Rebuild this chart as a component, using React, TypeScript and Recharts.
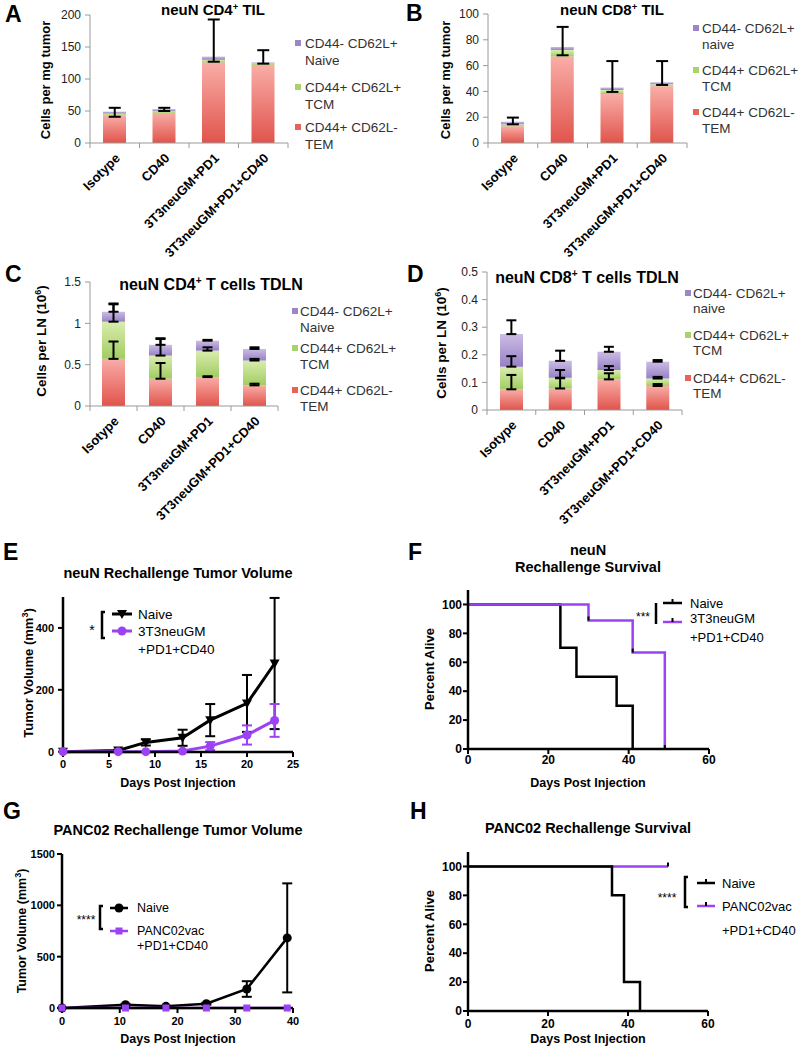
import React from 'react';
import { ComposedChart, LineChart, Bar, Line, XAxis, YAxis, ErrorBar, Legend } from 'recharts';

const FONT = '"Liberation Sans", Arial, Helvetica, sans-serif';
const PURPLE = '#9b42f5';
const AXIS_GRAY = '#9a9a9a';

// ---------------- Panels A–D (stacked bars) ----------------
const groups = ['Isotype', 'CD40', '3T3neuGM+PD1', '3T3neuGM+PD1+CD40'];

const tilCd4Tem = [43, 47, 126, 122];
const tilCd4Tcm = [3, 2.5, 4, 2.5];
const tilCd4Naive = [3, 3.5, 5, 1.5];
const tilCd4ErrLow = [8, 3, 8, 2];
const tilCd4ErrHigh = [6, 2, 58, 19];

const tilCd8Tem = [13, 67, 38, 44];
const tilCd8Tcm = [1.5, 5, 3, 1.5];
const tilCd8Naive = [2, 2.5, 2, 1.5];
const tilCd8ErrLow = [2, 6.5, 3.4, 2];
const tilCd8ErrHigh = [3.2, 15.5, 20.5, 16.5];

const lnCd4Tem = [0.57, 0.33, 0.35, 0.25];
const lnCd4Tcm = [0.45, 0.28, 0.32, 0.3];
const lnCd4Naive = [0.12, 0.13, 0.12, 0.14];
const lnCd4TemErr = [0.21, 0.19, 0.01, 0.02];
const lnCd4TcmErr = [0.21, 0.2, 0.04, 0.02];
const lnCd4NaiveErr = [0.1, 0.08, 0.01, 0.02];

const lnCd8Tem = [0.075, 0.078, 0.111, 0.087];
const lnCd8Tcm = [0.082, 0.039, 0.034, 0.027];
const lnCd8Naive = [0.118, 0.061, 0.066, 0.061];
const lnCd8TemErr = [0.052, 0.037, 0.022, 0.007];
const lnCd8TcmErr = [0.038, 0.028, 0.014, 0.006];
const lnCd8NaiveErr = [0.05, 0.037, 0.018, 0.006];

const ticksA = [0, 50, 100, 150, 200];
const ticksB = [0, 20, 40, 60, 80, 100];
const ticksC = [0, 0.5, 1, 1.5];
const ticksD = [0, 0.1, 0.2, 0.3, 0.4, 0.5];

// ---------------- Panels E–H ----------------
const neuNDays = [0, 6, 9, 13, 16, 20, 23];
const neuNNaiveVol = [0, 4, 30, 45, 102, 156, 285];
const neuNNaiveErr = [0, 2, 10, 26, 52, 92, 212];
const neuNVacVol = [0, 0, 0, 2, 18, 54, 101];
const neuNVacErr = [0, 0, 1, 2, 13, 31, 53];
const neuNTicksX = [0, 5, 10, 15, 20, 25];
const neuNTicksY = [0, 200, 400];

const fNaiveDays = [0, 23, 27, 37, 41];
const fNaivePct = [100, 70, 50, 30, 0];
const fVacDays = [0, 30, 41, 49];
const fVacPct = [100, 88.9, 66.7, 0];

const pancDays = [0, 11, 18, 25, 32, 39];
const pancNaiveVol = [0, 32, 16, 42, 185, 683];
const pancNaiveErr = [0, 8, 5, 8, 76, 531];
const pancVacVol = [0, 0, 0, 0, 0, 0];
const pancTicksX = [0, 10, 20, 30, 40];
const pancTicksY = [0, 500, 1000, 1500];

const hNaiveDays = [0, 36, 39, 43];
const hNaivePct = [100, 80, 20, 0];
const hVacDays = [0, 50];
const hVacPct = [100, 100];

const survTicksX = [0, 20, 40, 60];
const survTicksY = [0, 20, 40, 60, 80, 100];

// ---------------- row builders ----------------
type Row = Record<string, any>;
function stackedRows(tem: number[], tcm: number[], naive: number[]): Row[] {
  return groups.map((g, i) => ({
    group: g,
    tem: tem[i],
    tcm: tcm[i],
    naive: naive[i],
    temTop: tem[i],
    tcmTop: tem[i] + tcm[i],
    total: tem[i] + tcm[i] + naive[i],
  }));
}
const rowsA = stackedRows(tilCd4Tem, tilCd4Tcm, tilCd4Naive).map((r, i) => ({ ...r, totalErr: [tilCd4ErrLow[i], tilCd4ErrHigh[i]] }));
const rowsB = stackedRows(tilCd8Tem, tilCd8Tcm, tilCd8Naive).map((r, i) => ({ ...r, totalErr: [tilCd8ErrLow[i], tilCd8ErrHigh[i]] }));
const rowsC = stackedRows(lnCd4Tem, lnCd4Tcm, lnCd4Naive).map((r, i) => ({
  ...r,
  temErr: [0, lnCd4TemErr[i]],
  tcmErr: [0, lnCd4TcmErr[i]],
  totalErr: [0, lnCd4NaiveErr[i]],
}));
const rowsD = stackedRows(lnCd8Tem, lnCd8Tcm, lnCd8Naive).map((r, i) => ({
  ...r,
  temErr: [0, lnCd8TemErr[i]],
  tcmErr: [0, lnCd8TcmErr[i]],
  totalErr: [0, lnCd8NaiveErr[i]],
}));

const rowsE = neuNDays.map((d, i) => ({ day: d, naive: neuNNaiveVol[i], naiveErr: neuNNaiveErr[i], vac: neuNVacVol[i], vacErr: neuNVacErr[i] }));
const rowsG = pancDays.map((d, i) => ({ day: d, naive: pancNaiveVol[i], naiveErr: pancNaiveErr[i], vac: pancVacVol[i] }));
const fNaive = fNaiveDays.map((d, i) => ({ x: d, pct: fNaivePct[i] }));
const fVac = fVacDays.map((d, i) => ({ x: d, pct: fVacPct[i] }));
const hNaive = hNaiveDays.map((d, i) => ({ x: d, pct: hNaivePct[i] }));
const hVac = hVacDays.map((d, i) => ({ x: d, pct: hVacPct[i] }));

// ---------------- bar helpers ----------------
const SWATCH: Record<string, string> = { tem: '#E8625A', tcm: '#A8D26A', naive: '#9C86CA' };

function BarTick(props: any) {
  const { x, y, payload, index } = props;
  const half = payload && payload.offset ? payload.offset : 24.75;
  const ax = x + 6;
  const ay = y + 16;
  return (
    <g>
      <line x1={x - half} y1={y} x2={x - half} y2={y + 5} stroke={AXIS_GRAY} />
      {index === groups.length - 1 ? <line x1={x + half} y1={y} x2={x + half} y2={y + 5} stroke={AXIS_GRAY} /> : null}
      <text x={ax} y={ay} transform={`rotate(-45 ${ax} ${ay})`} textAnchor="end" fontSize={13} fontWeight="bold" fill="#000">
        {payload.value}
      </text>
    </g>
  );
}

function BarLegendContent({ payload, lg }: any) {
  const order = ['naive', 'tcm', 'tem'];
  const items = (payload || [])
    .filter((p: any) => order.includes(p.dataKey))
    .sort((a: any, b: any) => order.indexOf(a.dataKey) - order.indexOf(b.dataKey));
  return (
    <svg width={lg.width} height={lg.height} style={{ overflow: 'visible', display: 'block' }}>
      {items.map((p: any, i: number) => {
        const [y1, y2] = lg.rows[i];
        const lines = String(p.value).split('\n');
        return (
          <g key={p.dataKey}>
            <rect x={lg.sqX} y={y1 - 3} width={6} height={6} fill={SWATCH[p.dataKey]} />
            <text x={lg.textX} y={y1} dy="0.35em" fontSize={13.5} fill="#333">{lines[0]}</text>
            <text x={lg.textX} y={y2} dy="0.35em" fontSize={13.5} fill="#333">{lines[1]}</text>
          </g>
        );
      })}
    </svg>
  );
}

function BarPanel({ cfg }: any) {
  const id = cfg.id;
  return (
    <div style={{ position: 'absolute', left: cfg.left, top: cfg.top }}>
      <ComposedChart width={cfg.width} height={cfg.height} data={cfg.rows} margin={cfg.margin}>
        <defs>
          <linearGradient id={`${id}-tem`} x1="0" y1="0" x2="0" y2="1">
            <stop offset="0%" stopColor="#F9ADA7" />
            <stop offset="100%" stopColor="#E0544C" />
          </linearGradient>
          <linearGradient id={`${id}-tcm`} x1="0" y1="0" x2="0" y2="1">
            <stop offset="0%" stopColor="#D9EDAE" />
            <stop offset="100%" stopColor="#A2CC62" />
          </linearGradient>
          <linearGradient id={`${id}-naive`} x1="0" y1="0" x2="0" y2="1">
            <stop offset="0%" stopColor="#CBBCE4" />
            <stop offset="100%" stopColor="#9781C6" />
          </linearGradient>
        </defs>
        <XAxis
          dataKey="group"
          type="category"
          interval={0}
          height={cfg.xHeight}
          tickLine={false}
          tickSize={0}
          tickMargin={0}
          axisLine={{ stroke: AXIS_GRAY }}
          tick={<BarTick />}
        />
        <YAxis
          type="number"
          width={cfg.yWidth}
          domain={cfg.domain}
          ticks={cfg.ticks}
          interval={0}
          allowDataOverflow
          axisLine={{ stroke: AXIS_GRAY }}
          tickLine={{ stroke: AXIS_GRAY }}
          tickSize={5}
          tickMargin={4}
          tick={{ fontSize: 12, fill: '#222' }}
        />
        <Bar dataKey="tem" name={cfg.names.tem} stackId="s" barSize={23} fill={`url(#${id}-tem)`} isAnimationActive={false} />
        <Bar dataKey="tcm" name={cfg.names.tcm} stackId="s" barSize={23} fill={`url(#${id}-tcm)`} isAnimationActive={false} />
        <Bar dataKey="naive" name={cfg.names.naive} stackId="s" barSize={23} fill={`url(#${id}-naive)`} isAnimationActive={false} />
        {cfg.errs.map((e: any) => (
          <Line
            key={e.key}
            dataKey={e.key}
            stroke="none"
            dot={false}
            activeDot={false}
            legendType="none"
            isAnimationActive={false}
          >
            <ErrorBar dataKey={e.err} width={cfg.cap} stroke="#000" strokeWidth={2} direction="y" />
          </Line>
        ))}
        <Legend
          layout="vertical"
          align="center"
          verticalAlign="middle"
          wrapperStyle={{ left: cfg.legend.left, top: cfg.legend.top, width: cfg.legend.width, height: cfg.legend.height }}
          content={(p: any) => <BarLegendContent payload={p.payload} lg={cfg.legend} />}
        />
      </ComposedChart>
    </div>
  );
}

const panelA = {
  id: 'pa', left: 0, top: 0, width: 400, height: 265,
  margin: { top: 15, right: 112, bottom: 17, left: 30 }, yWidth: 60, xHeight: 105,
  domain: [0, 200], ticks: ticksA, rows: rowsA,
  names: { tem: 'CD44+ CD62L-\nTEM', tcm: 'CD44+ CD62L+\nTCM', naive: 'CD44- CD62L+\nNaive' },
  errs: [{ key: 'total', err: 'totalErr' }], cap: 6,
  legend: { left: 290, top: 30, width: 110, height: 125, sqX: 5, textX: 15, rows: [[13, 30], [57, 74], [97, 114]] },
};
const panelB = {
  id: 'pb', left: 400, top: 0, width: 400, height: 265,
  margin: { top: 14, right: 113, bottom: 17, left: 28 }, yWidth: 60, xHeight: 105,
  domain: [0, 100], ticks: ticksB, rows: rowsB,
  names: { tem: 'CD44+ CD62L-\nTEM', tcm: 'CD44+ CD62L+\nTCM', naive: 'CD44- CD62L+\nnaive' },
  errs: [{ key: 'total', err: 'totalErr' }], cap: 6,
  legend: { left: 288, top: 15, width: 112, height: 125, sqX: 5, textX: 14, rows: [[13, 29], [55, 71], [97, 113]] },
};
const panelC = {
  id: 'pc', left: 0, top: 250, width: 400, height: 280,
  margin: { top: 32, right: 122, bottom: 3, left: 30 }, yWidth: 60, xHeight: 121,
  domain: [0, 1.5], ticks: ticksC, rows: rowsC,
  names: { tem: 'CD44+ CD62L-\nTEM', tcm: 'CD44+ CD62L+\nTCM', naive: 'CD44- CD62L+\nNaive' },
  errs: [{ key: 'temTop', err: 'temErr' }, { key: 'tcmTop', err: 'tcmErr' }, { key: 'total', err: 'totalErr' }], cap: 5,
  legend: { left: 288, top: 45, width: 112, height: 125, sqX: 4, textX: 12, rows: [[16, 32], [53, 69], [95, 111]] },
};
const panelD = {
  id: 'pd', left: 400, top: 250, width: 400, height: 280,
  margin: { top: 22, right: 118, bottom: 5, left: 27 }, yWidth: 60, xHeight: 115,
  domain: [0, 0.5], ticks: ticksD, rows: rowsD,
  names: { tem: 'CD44+ CD62L-\nTEM', tcm: 'CD44+ CD62L+\nTCM', naive: 'CD44- CD62L+\nnaive' },
  errs: [{ key: 'temTop', err: 'temErr' }, { key: 'tcmTop', err: 'tcmErr' }, { key: 'total', err: 'totalErr' }], cap: 5,
  legend: { left: 280, top: 30, width: 120, height: 125, sqX: 5, textX: 13, rows: [[13, 28], [55, 70], [98, 113]] },
};

// ---------------- line / survival helpers ----------------
const gpAxisLine = { stroke: '#000', strokeWidth: 2.5 };
const gpTickLine = { stroke: '#000', strokeWidth: 2 };
const gpTick = { fontSize: 11, fontWeight: 700, fill: '#000' };
const gpTick12 = { fontSize: 12, fontWeight: 700, fill: '#000' };

function InvTriangleDot(props: any) {
  const { cx, cy } = props;
  if (cx == null || cy == null) return <g />;
  return <path d={`M${cx - 5},${cy - 4} L${cx + 5},${cy - 4} L${cx},${cy + 5} Z`} fill="#000" />;
}
function CircleDot(props: any) {
  const { cx, cy, color } = props;
  if (cx == null || cy == null) return <g />;
  return <circle cx={cx} cy={cy} r={4.5} fill={color} />;
}
function SquareDot(props: any) {
  const { cx, cy, color } = props;
  if (cx == null || cy == null) return <g />;
  return <rect x={cx - 3.5} y={cy - 3.5} width={7} height={7} fill={color} />;
}
function CensorDot(props: any) {
  const { cx, cy, index, from } = props;
  if (cx == null || cy == null || index < from) return <g />;
  return <line x1={cx} y1={cy} x2={cx} y2={cy - 4} stroke="#000" strokeWidth={2} />;
}

function Marker({ kind, x, y, color }: any) {
  if (kind === 'tri') return <path d={`M${x - 5},${y - 4} L${x + 5},${y - 4} L${x},${y + 5} Z`} fill={color} />;
  if (kind === 'circle') return <circle cx={x} cy={y} r={4.5} fill={color} />;
  if (kind === 'square') return <rect x={x - 3.5} y={y - 3.5} width={7} height={7} fill={color} />;
  return <line x1={x} y1={y} x2={x} y2={y - 4} stroke="#000" strokeWidth={2} />;
}

function GPLegend({ payload, cfg }: any) {
  const items = (payload || [])
    .filter((p: any) => p.type !== 'none')
    .slice()
    .sort((a: any, b: any) => (a.value === 'Naive' ? -1 : b.value === 'Naive' ? 1 : 0));
  const textLines: string[] = [];
  items.forEach((p: any) => String(p.value).split('\n').forEach((l) => textLines.push(l)));
  const b = cfg.bracket;
  const mid = (cfg.lineX1 + cfg.lineX2) / 2;
  return (
    <svg width={cfg.width} height={cfg.height} style={{ overflow: 'visible', display: 'block' }}>
      <text x={cfg.starX} y={cfg.starY} textAnchor="middle" fontSize={cfg.starSize} fill="#000">{cfg.stars}</text>
      <path
        d={b.serif ? `M${b.x + b.serif},${b.y1} H${b.x} V${b.y2} H${b.x + b.serif}` : `M${b.x},${b.y1} V${b.y2}`}
        stroke="#000"
        strokeWidth={2.5}
        fill="none"
      />
      {items.map((p: any, i: number) => (
        <g key={i}>
          <line x1={cfg.lineX1} y1={cfg.markerYs[i]} x2={cfg.lineX2} y2={cfg.markerYs[i]} stroke={p.color} strokeWidth={cfg.lineW} />
          <Marker kind={cfg.markers[i]} x={mid} y={cfg.markerYs[i]} color={p.color} />
        </g>
      ))}
      {textLines.map((t, i) => (
        <text key={i} x={cfg.textX} y={cfg.textYs[i]} dy="0.35em" fontSize={cfg.fontSize} fill="#000">{t}</text>
      ))}
    </svg>
  );
}

const legendE = {
  width: 150, height: 70, stars: '*', starX: 12, starY: 35, starSize: 14,
  bracket: { x: 22, y1: 12, y2: 38, serif: 3 }, lineX1: 32, lineX2: 52, lineW: 3,
  markerYs: [14, 31], markers: ['tri', 'circle'], textX: 58, textYs: [14, 31, 49], fontSize: 13.5,
};
const legendF = {
  width: 170, height: 60, stars: '***', starX: 13, starY: 26, starSize: 12,
  bracket: { x: 26, y1: 8, y2: 29, serif: 0 }, lineX1: 33, lineX2: 52, lineW: 2.5,
  markerYs: [8, 27], markers: ['tick', 'tick'], textX: 60, textYs: [8, 23, 42], fontSize: 13,
};
const legendG = {
  width: 160, height: 60, stars: '****', starX: 16, starY: 29, starSize: 12,
  bracket: { x: 30, y1: 11, y2: 34, serif: 3 }, lineX1: 40, lineX2: 58, lineW: 2.5,
  markerYs: [13, 36], markers: ['circle', 'square'], textX: 67, textYs: [13, 36, 51], fontSize: 12.5,
};
const legendH = {
  width: 150, height: 75, stars: '****', starX: 17, starY: 32, starSize: 12,
  bracket: { x: 35, y1: 7, y2: 37, serif: 3 }, lineX1: 47, lineX2: 65, lineW: 2.5,
  markerYs: [13, 36], markers: ['tick', 'tick'], textX: 72, textYs: [13, 36, 60], fontSize: 13,
};

function PanelE() {
  return (
    <div style={{ position: 'absolute', left: 0, top: 580 }}>
      <LineChart width={400} height={220} data={rowsE} margin={{ top: 17, right: 107, bottom: 18, left: 0 }}>
        <XAxis dataKey="day" type="number" domain={[0, 25]} ticks={neuNTicksX} interval={0} height={30}
          axisLine={gpAxisLine} tickLine={gpTickLine} tickSize={5} tickMargin={3} tick={gpTick} />
        <YAxis type="number" domain={[0, 500]} ticks={neuNTicksY} interval={0} width={63}
          axisLine={gpAxisLine} tickLine={gpTickLine} tickSize={5} tickMargin={4} tick={gpTick} />
        <Line dataKey="naive" name="Naive" stroke="#000" strokeWidth={3} dot={<InvTriangleDot />} activeDot={false} isAnimationActive={false}>
          <ErrorBar dataKey="naiveErr" width={5} stroke="#000" strokeWidth={2} direction="y" />
        </Line>
        <Line dataKey="vac" name={'3T3neuGM\n+PD1+CD40'} stroke={PURPLE} strokeWidth={3} dot={<CircleDot color={PURPLE} />} activeDot={false} isAnimationActive={false}>
          <ErrorBar dataKey="vacErr" width={5} stroke={PURPLE} strokeWidth={2} direction="y" />
        </Line>
        <Legend layout="vertical" align="center" verticalAlign="middle"
          wrapperStyle={{ left: 80, top: 20, width: 150, height: 70 }}
          content={(p: any) => <GPLegend payload={p.payload} cfg={legendE} />} />
      </LineChart>
    </div>
  );
}

function PanelF() {
  return (
    <div style={{ position: 'absolute', left: 400, top: 580 }}>
      <LineChart width={400} height={220} margin={{ top: 10, right: 91, bottom: 21, left: 0 }}>
        <XAxis dataKey="x" type="number" domain={[0, 60]} ticks={survTicksX} interval={0} height={30}
          axisLine={gpAxisLine} tickLine={gpTickLine} tickSize={5} tickMargin={1} tick={gpTick12} />
        <YAxis type="number" domain={[0, 110]} ticks={survTicksY} interval={0} width={68}
          axisLine={gpAxisLine} tickLine={gpTickLine} tickSize={5} tickMargin={1} tick={gpTick12} />
        <Line data={fNaive} dataKey="pct" name="Naive" type="stepAfter" stroke="#000" strokeWidth={2.5} dot={false} activeDot={false} isAnimationActive={false} />
        <Line data={fVac} dataKey="pct" name={'3T3neuGM\n+PD1+CD40'} type="stepAfter" stroke={PURPLE} strokeWidth={2.5}
          dot={<CensorDot from={1} />} activeDot={false} isAnimationActive={false} />
        <Legend layout="vertical" align="center" verticalAlign="middle"
          wrapperStyle={{ left: 230, top: 15, width: 170, height: 60 }}
          content={(p: any) => <GPLegend payload={p.payload} cfg={legendF} />} />
      </LineChart>
    </div>
  );
}

function PanelG() {
  return (
    <div style={{ position: 'absolute', left: 0, top: 840 }}>
      <LineChart width={400} height={200} data={rowsG} margin={{ top: 14, right: 107, bottom: 2, left: 0 }}>
        <XAxis dataKey="day" type="number" domain={[0, 40]} ticks={pancTicksX} interval={0} height={30}
          axisLine={gpAxisLine} tickLine={gpTickLine} tickSize={5} tickMargin={4} tick={gpTick} />
        <YAxis type="number" domain={[0, 1500]} ticks={pancTicksY} interval={0} width={62}
          axisLine={gpAxisLine} tickLine={gpTickLine} tickSize={5} tickMargin={2} tick={gpTick} />
        <Line dataKey="naive" name="Naive" stroke="#000" strokeWidth={2.5} dot={<CircleDot color="#000" />} activeDot={false} isAnimationActive={false}>
          <ErrorBar dataKey="naiveErr" width={5} stroke="#000" strokeWidth={2} direction="y" />
        </Line>
        <Line dataKey="vac" name={'PANC02vac\n+PD1+CD40'} stroke={PURPLE} strokeWidth={2.5} dot={<SquareDot color={PURPLE} />} activeDot={false} isAnimationActive={false} />
        <Legend layout="vertical" align="center" verticalAlign="middle"
          wrapperStyle={{ left: 70, top: 55, width: 160, height: 60 }}
          content={(p: any) => <GPLegend payload={p.payload} cfg={legendG} />} />
      </LineChart>
    </div>
  );
}

function PanelH() {
  return (
    <div style={{ position: 'absolute', left: 400, top: 840 }}>
      <LineChart width={400} height={200} margin={{ top: 12, right: 92, bottom: 2, left: 0 }}>
        <XAxis dataKey="x" type="number" domain={[0, 60]} ticks={survTicksX} interval={0} height={27}
          axisLine={gpAxisLine} tickLine={gpTickLine} tickSize={5} tickMargin={3} tick={gpTick12} />
        <YAxis type="number" domain={[0, 110]} ticks={survTicksY} interval={0} width={68}
          axisLine={gpAxisLine} tickLine={gpTickLine} tickSize={5} tickMargin={1} tick={gpTick12} />
        <Line data={hVac} dataKey="pct" name={'PANC02vac\n+PD1+CD40'} type="stepAfter" stroke={PURPLE} strokeWidth={2.5}
          dot={<CensorDot from={1} />} activeDot={false} isAnimationActive={false} />
        <Line data={hNaive} dataKey="pct" name="Naive" type="stepAfter" stroke="#000" strokeWidth={2.5} dot={false} activeDot={false} isAnimationActive={false} />
        <Legend layout="vertical" align="center" verticalAlign="middle"
          wrapperStyle={{ left: 250, top: 30, width: 150, height: 75 }}
          content={(p: any) => <GPLegend payload={p.payload} cfg={legendH} />} />
      </LineChart>
    </div>
  );
}

// ---------------- titles, panel letters, axis titles ----------------
function Overlay() {
  const L = (t: string, x: number, y: number) => (
    <text x={x} y={y} fontSize={23} fontWeight="bold" fill="#000">{t}</text>
  );
  const yLabel = (x: number, y: number, size: number, children: any) => (
    <text transform={`translate(${x},${y}) rotate(-90)`} textAnchor="middle" fontSize={size} fontWeight="bold" fill="#000">{children}</text>
  );
  const title = (x: number, y: number, size: number, children: any) => (
    <text x={x} y={y} textAnchor="middle" fontSize={size} fontWeight="bold" fill="#000">{children}</text>
  );
  return (
    <svg width={800} height={1050} style={{ position: 'absolute', left: 0, top: 0, pointerEvents: 'none' }}>
      {L('A', 5, 22)}
      {L('B', 406, 21)}
      {L('C', 5, 282)}
      {L('D', 407, 282)}
      {L('E', 3, 560)}
      {L('F', 408, 560)}
      {L('G', 3, 819)}
      {L('H', 410, 819)}

      {title(213, 15, 15, <>neuN CD4<tspan dy={-5} fontSize={9.5}>+</tspan><tspan dy={5}> TIL</tspan></>)}
      {title(612, 15, 15, <>neuN CD8<tspan dy={-5} fontSize={9.5}>+</tspan><tspan dy={5}> TIL</tspan></>)}
      {title(211, 290, 16, <>neuN CD4<tspan dy={-6} fontSize={10}>+</tspan><tspan dy={6}> T cells TDLN</tspan></>)}
      {title(587, 283, 16, <>neuN CD8<tspan dy={-6} fontSize={10}>+</tspan><tspan dy={6}> T cells TDLN</tspan></>)}
      {title(178, 578, 14.5, 'neuN Rechallenge Tumor Volume')}
      {title(588, 555, 14.5, 'neuN')}
      {title(588, 572, 14.5, 'Rechallenge Survival')}
      {title(178, 835, 14.5, 'PANC02 Rechallenge Tumor Volume')}
      {title(588, 833, 14.5, 'PANC02 Rechallenge Survival')}

      {yLabel(50, 80, 13, 'Cells per mg tumor')}
      {yLabel(450, 80, 13, 'Cells per mg tumor')}
      {yLabel(46, 341, 13.5, <>Cells per LN (10<tspan dy={-5} fontSize={9}>6</tspan><tspan dy={5}>)</tspan></>)}
      {yLabel(446, 343, 13.5, <>Cells per LN (10<tspan dy={-5} fontSize={9}>6</tspan><tspan dy={5}>)</tspan></>)}
      {yLabel(33, 673, 13, <>Tumor Volume (mm<tspan dy={-5} fontSize={9}>3</tspan><tspan dy={5}>)</tspan></>)}
      {yLabel(434, 669, 13, 'Percent Alive')}
      {yLabel(26, 931, 12.5, <>Tumor Volume (mm<tspan dy={-5} fontSize={9}>3</tspan><tspan dy={5}>)</tspan></>)}
      {yLabel(434, 931, 13, 'Percent Alive')}

      {title(178, 787, 12.5, 'Days Post Injection')}
      {title(588, 787, 12.5, 'Days Post Injection')}
      {title(178, 1043, 12.5, 'Days Post Injection')}
      {title(588, 1043, 12.5, 'Days Post Injection')}
    </svg>
  );
}

export default function App() {
  return (
    <div style={{ position: 'absolute', left: 0, top: 0, width: 800, height: 1050, background: '#fff', fontFamily: FONT, overflow: 'hidden' }}>
      <BarPanel cfg={panelA} />
      <BarPanel cfg={panelB} />
      <BarPanel cfg={panelC} />
      <BarPanel cfg={panelD} />
      <PanelE />
      <PanelF />
      <PanelG />
      <PanelH />
      <Overlay />
    </div>
  );
}
